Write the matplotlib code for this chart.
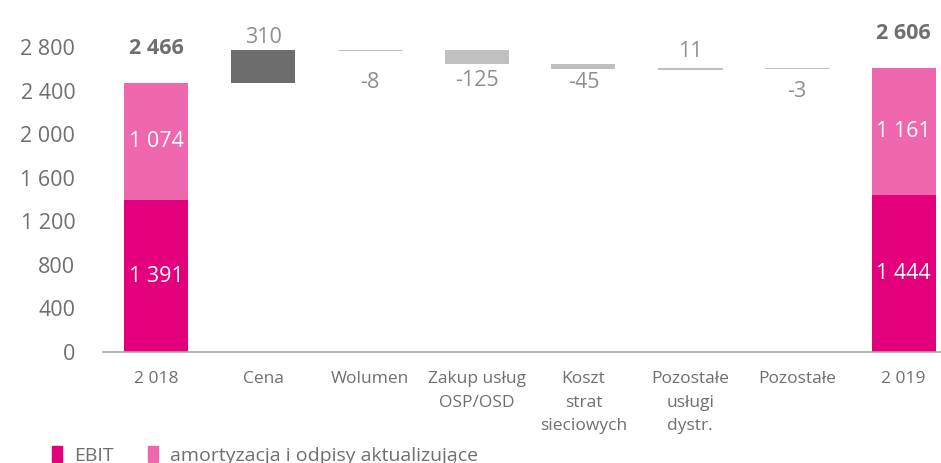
import matplotlib.pyplot as plt
from matplotlib.patches import Patch
import numpy as np

plt.rcParams['font.family'] = ['Open Sans', 'DejaVu Sans']

categories = ['2 018', 'Cena', 'Wolumen', 'Zakup usług\nOSP/OSD', 'Koszt\nstrat\nsieciowych',
              'Pozostałe\nusługi\ndystr.', 'Pozostałe', '2 019']
ebit = [1391, 1444]
amort = [1074, 1161]
totals = [2466, 2606]
deltas = [310, -8, -125, -45, 11, -3]

c_ebit = '#E4007D'
c_amort = '#EE67AF'
c_dark = '#6D6D6D'
c_light = '#C0C0C0'
c_text = '#6F6F6F'
c_lbl = '#8E8E8E'

def fmt(v):
    return f'{v:,}'.replace(',', ' ')

fig = plt.figure(figsize=(9.41, 4.63), dpi=100)
ax = fig.add_axes([0.1095, 0.24, 0.8905, 0.7056])

x = np.arange(len(categories))
w = 0.6

# start and end columns: EBIT + depreciation stacked
ends = [0, len(categories) - 1]
ax.bar(ends, ebit, w, color=c_ebit, zorder=2)
ax.bar(ends, amort, w, bottom=ebit, color=c_amort, zorder=2)
for xi, e, a, t in zip(ends, ebit, amort, totals):
    ax.text(xi, e / 2, fmt(e), ha='center', va='center', color='white', fontsize=15.5)
    ax.text(xi, e + a / 2, fmt(a), ha='center', va='center', color='white', fontsize=15.5)
    ax.annotate(fmt(t), (xi, e + a), xytext=(0, 25), textcoords='offset points',
                ha='center', va='center', color=c_text, fontsize=15.5, fontweight='bold')

# bridge steps
level = totals[0]
label_off = [9, -23, -12, -10, 12, -17]
for i, d in enumerate(deltas):
    xi = x[i + 1]
    bottom = level if d > 0 else level + d
    col = c_dark if i == 0 else c_light
    # thin steps get an outline so they still show as a line
    lw = 0.8 if abs(d) < 15 else 0
    ax.bar(xi, abs(d), w, bottom=bottom, color=col, edgecolor=col, linewidth=lw, zorder=2)
    ax.annotate(fmt(d), (xi, level + d), xytext=(0, label_off[i]),
                textcoords='offset points', ha='center', va='center',
                color=c_lbl, fontsize=15.5)
    level += d

ax.set_xlim(-0.5, 7.35)
ax.set_ylim(0, 3000)
yt = list(range(0, 3200, 400))[:8]
ax.set_yticks(yt)
ax.set_yticklabels([fmt(v) for v in yt])
ax.set_xticks(x)
ax.set_xticklabels(categories, linespacing=1.6)
ax.tick_params(axis='y', length=0, pad=20, labelsize=15.5, labelcolor=c_text)
ax.tick_params(axis='x', length=0, pad=14, labelsize=12.5, labelcolor=c_text)
for s in ['top', 'right', 'left']:
    ax.spines[s].set_visible(False)
ax.spines['bottom'].set_color('#A6A6A6')
ax.spines['bottom'].set_linewidth(1.2)

handles = [Patch(color=c_ebit, label='EBIT'),
           Patch(color=c_amort, label='amortyzacja i odpisy aktualizujące')]
leg = fig.legend(handles=handles, loc='center left', bbox_to_anchor=(0.037, 0.017), ncol=2,
                 frameon=False, fontsize=14, handlelength=0.5, handleheight=0.9,
                 handletextpad=0.6, columnspacing=1.8)
for t in leg.get_texts():
    t.set_color(c_text)

fig.savefig('out.png', dpi=100)
